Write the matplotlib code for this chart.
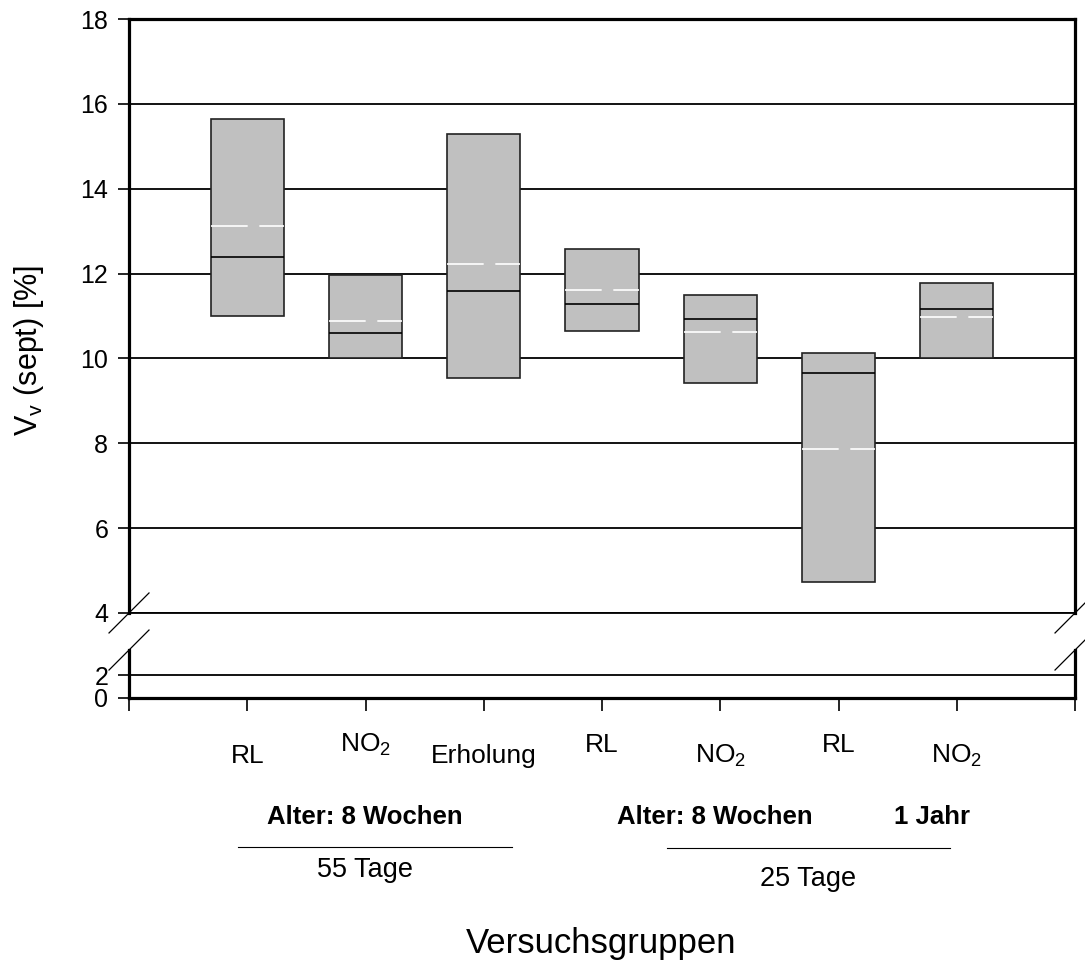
import numpy as np
import matplotlib.pyplot as plt

plt.rcParams['font.family'] = ['Liberation Sans', 'DejaVu Sans']
plt.rcParams['mathtext.default'] = 'regular'
plt.rcParams['font.size'] = 19

# ===================== Data =====================
groups = ['RL', 'NO$_2$', 'Erholung', 'RL', 'NO$_2$', 'RL', 'NO$_2$']
box_top = [15.65, 11.96, 15.28, 12.58, 11.49, 10.12, 11.78]
box_bottom = [11.0, 10.0, 9.53, 10.64, 9.42, 4.72, 10.0]
median_vals = [12.39, 10.59, 11.58, 11.29, 10.92, 9.65, 11.17]
mean_vals = [13.13, 10.89, 12.23, 11.62, 10.62, 7.86, 10.98]

upper_ticks = [4, 6, 8, 10, 12, 14, 16, 18]
lower_ticks = [0, 2]

x = np.arange(1, len(groups) + 1)
box_w = 0.62

# ===================== Figure =====================
fig = plt.figure(figsize=(10.85, 9.65), dpi=100)
left, width = 0.1189, 0.8719
ax = fig.add_axes([left, 0.3648, width, 0.9803 - 0.3648])
ax_lo = fig.add_axes([left, 0.2767, width, 0.3264 - 0.2767])

for a in (ax, ax_lo):
    a.set_xlim(0, 8)
    for s in ('left', 'right', 'top', 'bottom'):
        a.spines[s].set_linewidth(2.3)
    a.tick_params(axis='y', direction='out', length=8, width=1.2, labelsize=18, pad=7)
    a.yaxis.grid(True, color='black', linewidth=1.3)
    a.set_axisbelow(True)

ax.set_ylim(4, 18)
ax.set_yticks(upper_ticks)
ax.spines['bottom'].set_linewidth(1.3)
ax.set_xticks([])

ax_lo.set_ylim(0, 4.2)
ax_lo.set_yticks(lower_ticks)
ax_lo.spines['top'].set_visible(False)
ax_lo.set_xticks(np.arange(0, 9))
ax_lo.set_xticklabels([])
ax_lo.tick_params(axis='x', direction='out', length=9, width=1.2)

# boxes
ax.bar(x, np.array(box_top) - np.array(box_bottom), bottom=box_bottom, width=box_w,
       color='#c0c0c0', edgecolor='#222222', linewidth=1.2, zorder=3)
ax.hlines(median_vals, x - box_w / 2, x + box_w / 2, colors='black', linewidth=1.2, zorder=4)
ax.hlines(mean_vals, x - box_w / 2, x + box_w / 2, colors='white', linewidth=1.2,
          linestyles=(0, (22, 7)), zorder=4)

# axis break marks
d = 20
inv = fig.transFigure.inverted()
for a, yy in ((ax, 0.0), (ax_lo, 1.0)):
    for xx in (0.0, 1.0):
        p = a.transAxes.transform((xx, yy))
        x0, y0 = inv.transform((p[0] - d, p[1] - d))
        x1, y1 = inv.transform((p[0] + d, p[1] + d))
        fig.add_artist(plt.Line2D([x0, x1], [y0, y1], color='black', linewidth=0.9))

# category labels (alternating heights)
raise_flags = [False, True, False, True, False, True, False]
xt = ax_lo.get_xaxis_transform()
for xi, lab, up in zip(x, groups, raise_flags):
    ax_lo.text(xi, -0.98 if up else -1.2, lab, transform=xt, ha='center', va='center',
               fontsize=19)

# group annotations
fig.text(365 / 1085, 1 - 817 / 965, 'Alter: 8 Wochen', ha='center', va='center',
         fontsize=18.5, fontweight='bold')
fig.text(715 / 1085, 1 - 817 / 965, 'Alter: 8 Wochen', ha='center', va='center',
         fontsize=18.5, fontweight='bold')
fig.text(932 / 1085, 1 - 817 / 965, '1 Jahr', ha='center', va='center',
         fontsize=18.5, fontweight='bold')
fig.add_artist(plt.Line2D([238 / 1085, 512 / 1085], [1 - 847 / 965] * 2, color='black', linewidth=0.8))
fig.add_artist(plt.Line2D([667 / 1085, 950 / 1085], [1 - 848 / 965] * 2, color='black', linewidth=0.8))
fig.text(365 / 1085, 1 - 870 / 965, '55 Tage', ha='center', va='center', fontsize=19.5)
fig.text(808 / 1085, 1 - 879 / 965, '25 Tage', ha='center', va='center', fontsize=19.5)

fig.text(601 / 1085, 1 - 943 / 965, 'Versuchsgruppen', ha='center', va='center', fontsize=25)
fig.text(29 / 1085, 1 - 350 / 965, 'V$_v$ (sept) [%]', ha='center', va='center',
         rotation=90, fontsize=22)

fig.savefig('out.png', dpi=100)
